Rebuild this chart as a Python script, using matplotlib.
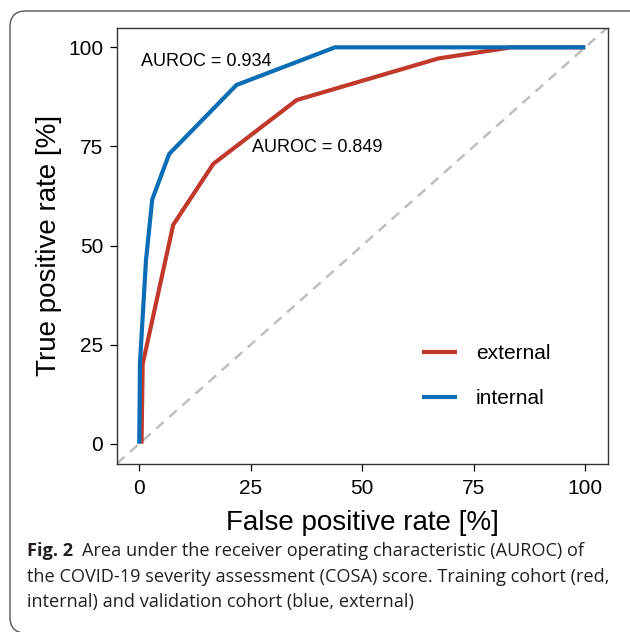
import matplotlib
matplotlib.use("Agg")
import matplotlib.pyplot as plt
from matplotlib.patches import FancyBboxPatch
from matplotlib.lines import Line2D

# ---- data ----
internal_fpr = [0.0, 0.15, 1.5, 2.9, 6.7, 21.8, 43.9, 100.0]
internal_tpr = [0.0, 20.3, 46.3, 61.6, 73.1, 90.5, 100.0, 100.0]
external_fpr = [0.5, 0.76, 7.6, 16.6, 35.3, 67.1, 83.5, 100.0]
external_tpr = [0.0, 20.1, 55.2, 70.6, 86.7, 97.2, 100.0, 100.0]
series_labels = ["external", "internal"]
auroc_internal = "AUROC = 0.934"
auroc_external = "AUROC = 0.849"
ticks = [0, 25, 50, 75, 100]
xlabel = "False positive rate [%]"
ylabel = "True positive rate [%]"
caption_bold = "Fig. 2"
caption_lines = [
    "Area under the receiver operating characteristic (AUROC) of",
    "the COVID-19 severity assessment (COSA) score. Training cohort (red,",
    "internal) and validation cohort (blue, external)",
]

RED = "#c0392b"
BLUE = "#0a6db5"
W, H = 630, 632
DPI = 100

plt.rcParams['font.family'] = ['Liberation Sans', 'DejaVu Sans']

fig = plt.figure(figsize=(W / DPI, H / DPI), dpi=DPI)
fig.patch.set_facecolor("white")

# outer rounded frame
frame = FancyBboxPatch((10 / W, 1 - 633 / H), 640 / W, 622 / H,
                       boxstyle="round,pad=0,rounding_size=0.025",
                       transform=fig.transFigure, fill=False,
                       edgecolor="#555555", linewidth=1.0, clip_on=False)
fig.patches.append(frame)

ax = fig.add_axes([117 / W, 1 - 463.5 / H, 490.5 / W, 436 / H])
ax.set_xlim(-5, 105)
ax.set_ylim(-5, 105)

ax.plot([0, 1], [0, 1], transform=ax.transAxes, color="#bfbfbf",
        linewidth=1.8, dashes=(4, 3), zorder=1)
ax.plot(external_fpr, external_tpr, color=RED, linewidth=3.0,
        solid_capstyle="butt", solid_joinstyle="miter", zorder=2)
ax.plot(internal_fpr, internal_tpr, color=BLUE, linewidth=3.0,
        solid_capstyle="butt", solid_joinstyle="miter", zorder=3)

ax.text(0.4, 96.4, auroc_internal, fontsize=13, ha="left", va="center", color="black")
ax.text(25.3, 74.7, auroc_external, fontsize=13, ha="left", va="center", color="black")

ax.set_xticks(ticks)
ax.set_yticks(ticks)
ax.tick_params(axis="both", direction="out", length=5, width=0.9,
               labelsize=15, pad=4, colors="black")
ax.tick_params(axis="x", pad=6)
ax.tick_params(axis="y", pad=5)
for s in ax.spines.values():
    s.set_linewidth(1.0)
    s.set_color("#333333")

ax.set_xlabel(xlabel, fontsize=20, labelpad=9)
ax.set_ylabel(ylabel, fontsize=20, labelpad=4)

handles = [Line2D([], [], color=RED, linewidth=3.0, solid_capstyle="butt"),
           Line2D([], [], color=BLUE, linewidth=3.0, solid_capstyle="butt")]
ax.legend(handles, series_labels, loc="center left",
          bbox_to_anchor=(0.622, 0.2), frameon=False, fontsize=15,
          handlelength=1.67, handletextpad=0.9, labelspacing=1.25,
          borderpad=0, borderaxespad=0)

# caption
cap_font = ['Open Sans', 'DejaVu Sans']
cap_color = "#231f20"
fig.canvas.draw()
r = fig.canvas.get_renderer()
target_w = 605 - 27  # pixels of the widest line
fs = 12.0
t = fig.text(0, 0, caption_lines[1], fontsize=fs, family=cap_font)
wpx = t.get_window_extent(r).width
t.remove()
fs = fs * target_w / wpx

y_lines = [551, 576.5, 602]
b = fig.text(27 / W, 1 - y_lines[0] / H, caption_bold, fontsize=fs, family=cap_font,
             weight="bold", ha="left", va="center", color=cap_color)
bw = b.get_window_extent(r).width
fig.text((27 + bw + 9) / W, 1 - y_lines[0] / H, caption_lines[0], fontsize=fs,
         family=cap_font, ha="left", va="center", color=cap_color)
for line, yy in zip(caption_lines[1:], y_lines[1:]):
    fig.text(27 / W, 1 - yy / H, line, fontsize=fs, family=cap_font,
             ha="left", va="center", color=cap_color)

fig.savefig("out.png", dpi=DPI, facecolor="white")
